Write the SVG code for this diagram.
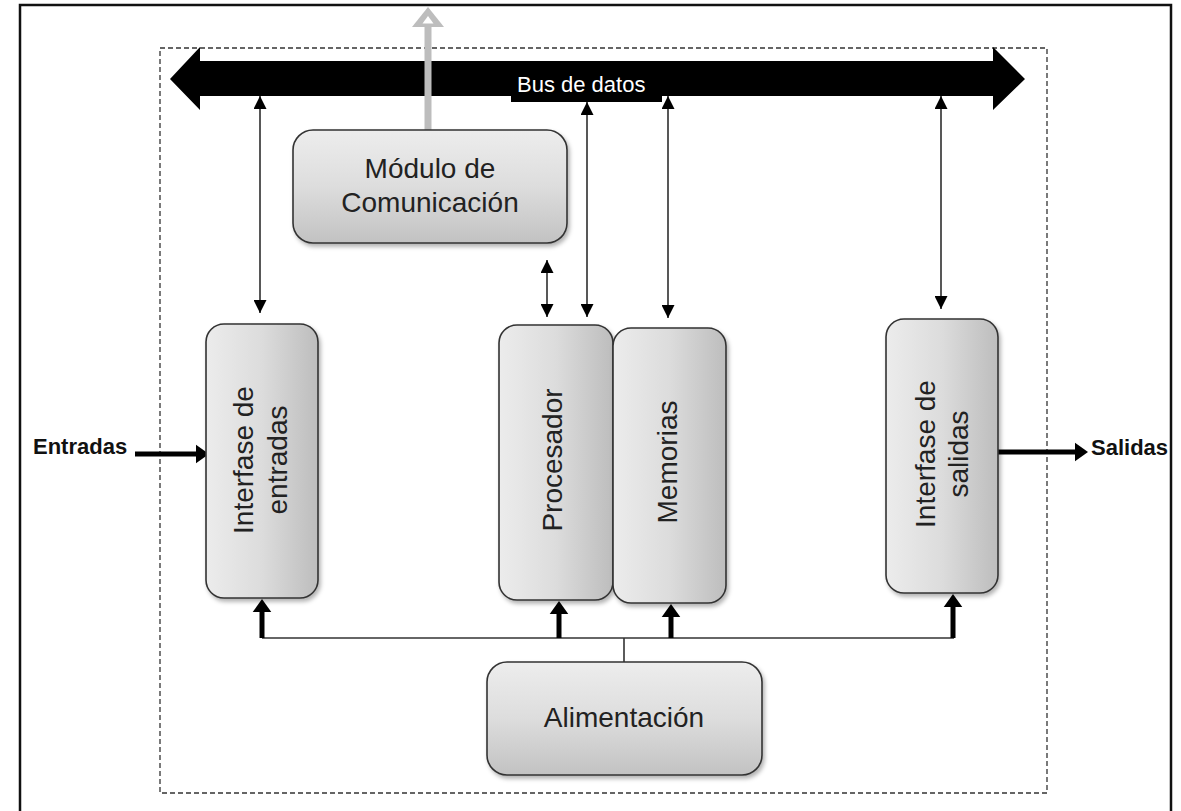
<svg xmlns="http://www.w3.org/2000/svg" width="1181" height="811" viewBox="0 0 1181 811">
  <style>
    .box { stroke: #333; stroke-width: 1.6; filter: url(#shadow); }
    .lbl { font-family: "Liberation Sans", Arial, sans-serif; font-size: 28px; fill: #222; text-anchor: middle; }
    .io { font-family: "Liberation Sans", Arial, sans-serif; font-size: 22px; font-weight: bold; fill: #111; }
    .thin { stroke: #111; stroke-width: 1.4; fill: none; marker-start: url(#tip); marker-end: url(#tip); }
    .thick { stroke: #000; stroke-width: 5; fill: none; marker-end: url(#fat); }
    .rail { stroke: #333; stroke-width: 1.6; fill: none; }
  </style>
  <defs>
    <linearGradient id="gv" x1="0" y1="0" x2="1" y2="0">
      <stop offset="0" stop-color="#ececec"/>
      <stop offset="0.5" stop-color="#dcdcdc"/>
      <stop offset="1" stop-color="#bdbdbd"/>
    </linearGradient>
    <linearGradient id="gh" x1="0" y1="0" x2="0" y2="1">
      <stop offset="0" stop-color="#ededed"/>
      <stop offset="0.5" stop-color="#dddddd"/>
      <stop offset="1" stop-color="#c2c2c2"/>
    </linearGradient>
    <filter id="shadow" x="-10%" y="-10%" width="125%" height="125%">
      <feDropShadow dx="2" dy="3" stdDeviation="2" flood-color="#000" flood-opacity="0.3"/>
    </filter>
    <marker id="tip" viewBox="0 0 10 10" refX="10" refY="5" markerWidth="13" markerHeight="13" markerUnits="userSpaceOnUse" orient="auto-start-reverse">
      <path d="M0,0 L10,5 L0,10 z" fill="#000"/>
    </marker>
    <marker id="fat" viewBox="0 0 14 20" refX="0" refY="10" markerWidth="13" markerHeight="20" markerUnits="userSpaceOnUse" orient="auto">
      <path d="M0,0 L14,10 L0,20 z" fill="#000"/>
    </marker>
  </defs>

  <rect width="1181" height="811" fill="#fff"/>

  <!-- page frame -->
  <path d="M20,811 V5 H1171 V811" fill="none" stroke="#111" stroke-width="2.5"/>

  <!-- controller boundary -->
  <rect x="160" y="48" width="887" height="745" fill="none" stroke="#333" stroke-width="1.3" stroke-dasharray="5,3"/>

  <!-- data bus -->
  <g id="bus">
    <path d="M170,79 L200,47 L200,61 L993,61 L993,47 L1025,79 L993,110 L993,96 L662,96 L662,102 L511,102 L511,96 L200,96 L200,110 Z" fill="#000"/>
    <text x="517" y="92" style="font-family:'Liberation Sans',Arial,sans-serif;font-size:22px;fill:#fff">Bus de datos</text>
  </g>

  <g id="connectors">
    <!-- outbound link of the communication module -->
    <rect x="424.5" y="26" width="7" height="104" fill="#bdbdbd"/>
    <polygon points="428,7 412,27 444,27" fill="#bdbdbd"/>
    <polygon points="428,16 422.5,23.5 433.5,23.5" fill="#fff"/>

    <!-- bus links -->
    <line class="thin" x1="260" y1="96" x2="260" y2="313"/>
    <line class="thin" x1="587" y1="102" x2="587" y2="317"/>
    <line class="thin" x1="668" y1="96" x2="668" y2="318"/>
    <line class="thin" x1="941" y1="96" x2="941" y2="309"/>
    <line class="thin" x1="547" y1="260" x2="547" y2="317"/>

    <!-- power distribution -->
    <path class="rail" d="M262,638 H954"/>
    <line class="rail" x1="624" y1="638" x2="624" y2="662"/>
    <line class="thick" x1="262" y1="638" x2="262" y2="612"/>
    <line class="thick" x1="559" y1="638" x2="559" y2="614"/>
    <line class="thick" x1="671" y1="638" x2="671" y2="617"/>
    <line class="thick" x1="953" y1="638" x2="953" y2="607"/>

    <!-- field inputs / outputs -->
    <line class="thick" x1="135" y1="454" x2="196" y2="454"/>
    <line class="thick" x1="994" y1="452" x2="1075" y2="452"/>
  </g>

  <text class="io" x="33" y="454">Entradas</text>
  <text class="io" x="1091" y="455">Salidas</text>

  <g id="modulo-comunicacion">
    <rect class="box" x="293" y="130" width="274" height="113" rx="20" fill="url(#gh)"/>
    <text class="lbl" x="430" y="178">Módulo de</text>
    <text class="lbl" x="430" y="212">Comunicación</text>
  </g>

  <g id="interfase-entradas">
    <rect class="box" x="206" y="324" width="112" height="274" rx="18" fill="url(#gv)"/>
    <text class="lbl" transform="translate(253,460) rotate(-90)">Interfase de</text>
    <text class="lbl" transform="translate(287,460) rotate(-90)">entradas</text>
  </g>

  <g id="procesador">
    <rect class="box" x="499" y="325" width="114" height="275" rx="18" fill="url(#gv)"/>
    <text class="lbl" transform="translate(562,460) rotate(-90)">Procesador</text>
  </g>

  <g id="memorias">
    <rect class="box" x="613" y="328" width="113" height="275" rx="18" fill="url(#gv)"/>
    <text class="lbl" transform="translate(677,462) rotate(-90)">Memorias</text>
  </g>

  <g id="interfase-salidas">
    <rect class="box" x="886" y="319" width="112" height="274" rx="18" fill="url(#gv)"/>
    <text class="lbl" transform="translate(935,454) rotate(-90)">Interfase de</text>
    <text class="lbl" transform="translate(968,454) rotate(-90)">salidas</text>
  </g>

  <g id="alimentacion">
    <rect class="box" x="487" y="662" width="275" height="113" rx="20" fill="url(#gh)"/>
    <text class="lbl" x="624" y="727">Alimentación</text>
  </g>
</svg>
